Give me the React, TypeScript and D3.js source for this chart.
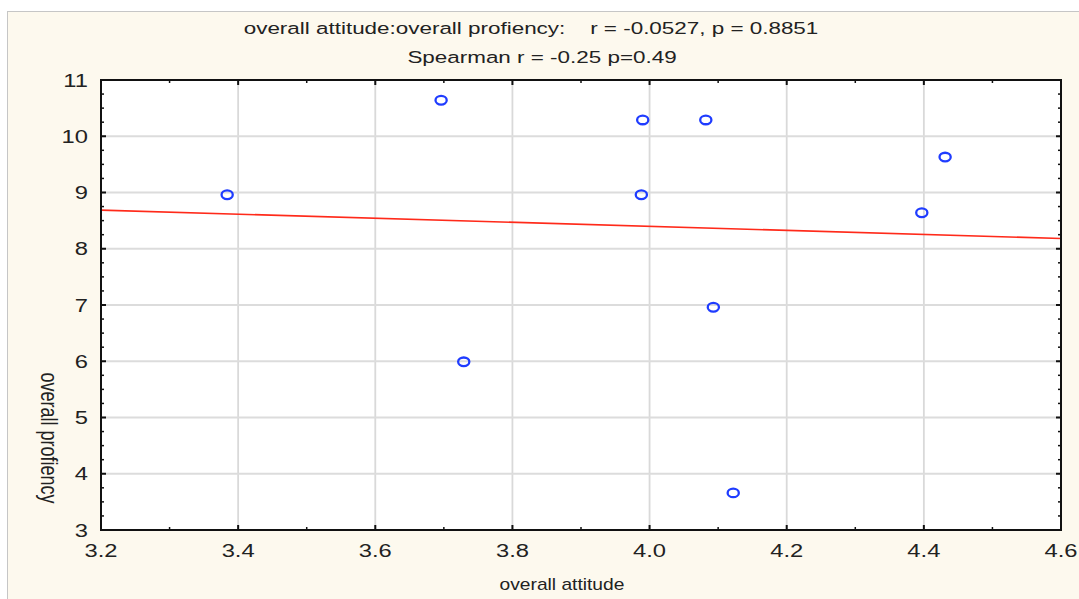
import React, { useEffect, useRef } from 'react';
import * as d3 from 'd3';

// values
const attitude = [3.384, 3.696, 3.990, 4.082, 4.431, 3.988, 4.397, 4.093, 3.729, 4.122];
const proficiency = [8.96, 10.64, 10.29, 10.29, 9.63, 8.96, 8.64, 6.96, 5.99, 3.66];
const xTicks = [3.2, 3.4, 3.6, 3.8, 4.0, 4.2, 4.4, 4.6];
const yTicks = [3, 4, 5, 6, 7, 8, 9, 10, 11];
const titleLines = [
    'overall attitude:overall profiency:    r = -0.0527, p = 0.8851',
    'Spearman r = -0.25 p=0.49',
];
const xTitle = 'overall attitude';
const yTitle = 'overall profiency';

const W = 1079, H = 599;

function App() {
    const ref = useRef<SVGSVGElement>(null);

    useEffect(() => {
        const svg = d3.select(ref.current);
        svg.selectAll('*').remove();

        const left = 101, right = 1061, top = 80, bottom = 530;
        const x = d3.scaleLinear().domain([3.2, 4.6]).range([left, right]);
        const y = d3.scaleLinear().domain([3, 11]).range([bottom, top]);
        const font = 'Liberation Sans, Arial, sans-serif';
        // the source picture is stretched sideways, so the text is too
        const sx = 1.32;

        // outer frame
        svg.append('rect')
            .attr('x', 7.5).attr('y', 11.5)
            .attr('width', W).attr('height', H)
            .attr('fill', '#fdf9ee')
            .attr('stroke', '#c6c6c6')
            .attr('stroke-width', 1);

        // plot area
        svg.append('rect')
            .attr('x', left).attr('y', top)
            .attr('width', right - left).attr('height', bottom - top)
            .attr('fill', '#ffffff');

        // grid
        xTicks.slice(1, -1).forEach(function (d) {
            svg.append('line')
                .attr('x1', x(d)).attr('x2', x(d))
                .attr('y1', top).attr('y2', bottom)
                .style('stroke', '#d9d9d9').style('stroke-width', 1.8);
        });
        yTicks.slice(1, -1).forEach(function (d) {
            svg.append('line')
                .attr('x1', left).attr('x2', right)
                .attr('y1', y(d)).attr('y2', y(d))
                .style('stroke', '#dcdcdc').style('stroke-width', 1.8);
        });

        // regression line
        const mx = d3.mean(attitude) as number;
        const my = d3.mean(proficiency) as number;
        const sxy = d3.sum(attitude, (v, i) => (v - mx) * (proficiency[i] - my));
        const sxx = d3.sum(attitude, v => (v - mx) * (v - mx));
        const slope = sxy / sxx;
        const fit = (v: number) => my + slope * (v - mx);
        svg.append('line')
            .attr('x1', x(3.2)).attr('y1', y(fit(3.2)))
            .attr('x2', x(4.6)).attr('y2', y(fit(4.6)))
            .style('stroke', '#ff2a1a').style('stroke-width', 1.6);

        // points
        svg.append('g').selectAll('ellipse')
            .data(attitude)
            .join('ellipse')
            .attr('cx', d => x(d))
            .attr('cy', (d, i) => y(proficiency[i]))
            .attr('rx', 5.6).attr('ry', 4.3)
            .attr('fill', 'none')
            .attr('stroke', '#1f3cff')
            .attr('stroke-width', 2.3);

        // ticks inward on all four sides
        const xMinor = d3.range(3.3, 4.6, 0.2);
        const yMinor = d3.range(3, 11.001, 0.25).filter(v => Math.abs(v - Math.round(v)) > 0.01);
        xTicks.forEach(function (d) {
            svg.append('line').attr('x1', x(d)).attr('x2', x(d)).attr('y1', bottom).attr('y2', bottom - 5).style('stroke', '#111').style('stroke-width', 2);
            svg.append('line').attr('x1', x(d)).attr('x2', x(d)).attr('y1', top).attr('y2', top + 5).style('stroke', '#111').style('stroke-width', 2);
        });
        xMinor.forEach(function (d) {
            svg.append('line').attr('x1', x(d)).attr('x2', x(d)).attr('y1', bottom).attr('y2', bottom - 3).style('stroke', '#111').style('stroke-width', 1.5);
            svg.append('line').attr('x1', x(d)).attr('x2', x(d)).attr('y1', top).attr('y2', top + 3).style('stroke', '#111').style('stroke-width', 1.5);
        });
        yTicks.forEach(function (d) {
            svg.append('line').attr('x1', left).attr('x2', left + 5).attr('y1', y(d)).attr('y2', y(d)).style('stroke', '#111').style('stroke-width', 2);
            svg.append('line').attr('x1', right).attr('x2', right - 5).attr('y1', y(d)).attr('y2', y(d)).style('stroke', '#111').style('stroke-width', 2);
        });
        yMinor.forEach(function (d) {
            svg.append('line').attr('x1', left).attr('x2', left + 3).attr('y1', y(d)).attr('y2', y(d)).style('stroke', '#111').style('stroke-width', 1.5);
            svg.append('line').attr('x1', right).attr('x2', right - 3).attr('y1', y(d)).attr('y2', y(d)).style('stroke', '#111').style('stroke-width', 1.5);
        });

        // axis frame
        svg.append('rect')
            .attr('x', left).attr('y', top)
            .attr('width', right - left).attr('height', bottom - top)
            .attr('fill', 'none')
            .attr('stroke', '#111')
            .attr('stroke-width', 2);

        // tick labels
        svg.append('g').selectAll('text')
            .data(xTicks)
            .join('text')
            .attr('transform', d => 'translate(' + x(d) + ',557) scale(' + sx + ',1)')
            .attr('text-anchor', 'middle')
            .style('font-family', font).style('font-size', '18px').style('fill', '#222')
            .text(d => d.toFixed(1));
        svg.append('g').selectAll('text')
            .data(yTicks)
            .join('text')
            .attr('transform', d => 'translate(88,' + (y(d) + 6.5) + ') scale(' + sx + ',1)')
            .attr('text-anchor', 'end')
            .style('font-family', font).style('font-size', '18px').style('fill', '#222')
            .text(d => String(d));

        // titles
        svg.append('text')
            .attr('transform', 'translate(531,34) scale(' + sx + ',1)')
            .attr('text-anchor', 'middle')
            .attr('xml:space', 'preserve')
            .style('white-space', 'pre')
            .style('font-family', font).style('font-size', '17px').style('fill', '#222')
            .text(titleLines[0]);
        svg.append('text')
            .attr('transform', 'translate(542,63) scale(' + sx + ',1)')
            .attr('text-anchor', 'middle')
            .style('font-family', font).style('font-size', '17px').style('fill', '#222')
            .text(titleLines[1]);
        svg.append('text')
            .attr('transform', 'translate(562,590) scale(1.2,1)')
            .attr('text-anchor', 'middle')
            .style('font-family', font).style('font-size', '16px').style('fill', '#222')
            .text(xTitle);
        svg.append('text')
            .attr('transform', 'translate(41,438) scale(1.3,1) rotate(90)')
            .attr('text-anchor', 'middle')
            .style('font-family', font).style('font-size', '18px').style('fill', '#222')
            .text(yTitle);
    }, []);

    return (
        <svg ref={ref} width={W} height={H}
            style={{ position: 'absolute', left: 0, top: 0, display: 'block', background: '#ffffff' }}>
        </svg>
    );
}

export default App;
